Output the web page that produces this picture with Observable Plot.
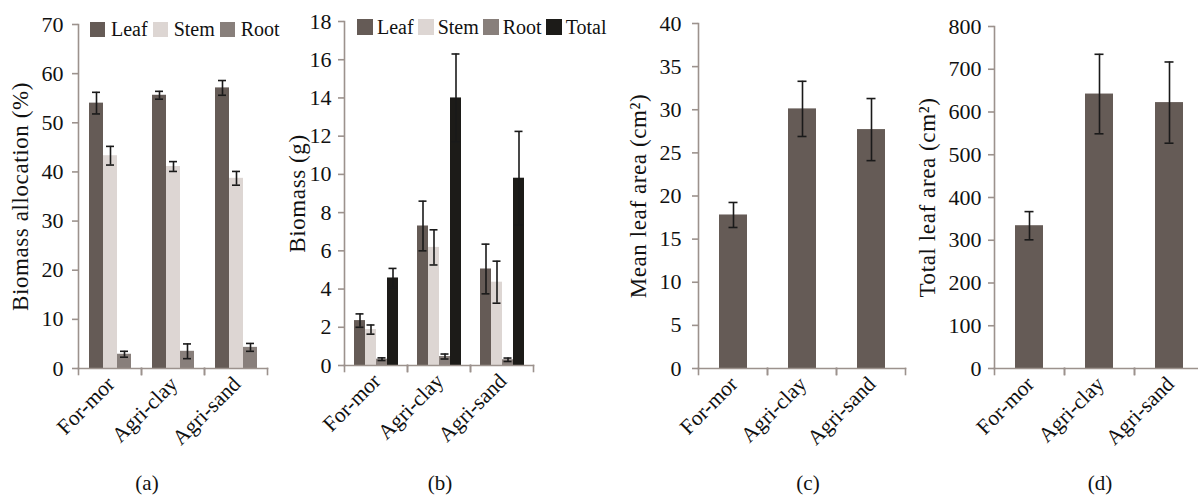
<!DOCTYPE html>
<html><head><meta charset="utf-8">
<script src="https://cdn.jsdelivr.net/npm/d3@7"></script>
<script src="https://cdn.jsdelivr.net/npm/@observablehq/plot@0.6"></script>
<style>
html,body{margin:0;padding:0;background:#fff;overflow:hidden}
#wrap{position:relative;width:1198px;height:496px;overflow:hidden;font-family:"Liberation Serif","Times New Roman",serif;color:#111}
.panel{position:absolute;top:0}
.legend{position:absolute;display:flex;align-items:center;font-size:20px;line-height:16px;white-space:nowrap}
.legend .sw{display:inline-block}
.cap{position:absolute;top:472px;font-size:21px;line-height:22px;transform:translateX(-50%)}
</style></head><body><div id="wrap"></div>
<script>
const categories = ["For-mor", "Agri-clay", "Agri-sand"];

// (a) Biomass allocation (%)
const allocSeries = ["Leaf", "Stem", "Root"];
const allocLeaf = [54.0, 55.6, 57.1];
const allocLeafErr = [2.2, 0.8, 1.5];
const allocStem = [43.3, 41.1, 38.7];
const allocStemErr = [1.9, 1.0, 1.4];
const allocRoot = [2.9, 3.5, 4.3];
const allocRootErr = [0.6, 1.5, 0.8];
const allocTicks = [0, 10, 20, 30, 40, 50, 60, 70];

// (b) Biomass (g)
const massSeries = ["Leaf", "Stem", "Root", "Total"];
const massLeaf = [2.35, 7.3, 5.05];
const massLeafErr = [0.35, 1.3, 1.3];
const massStem = [1.88, 6.18, 4.36];
const massStemErr = [0.24, 0.92, 1.1];
const massRoot = [0.33, 0.47, 0.30];
const massRootErr = [0.07, 0.13, 0.09];
const massTotal = [4.58, 14.0, 9.8];
const massTotalErr = [0.5, 2.3, 2.45];
const massTicks = [0, 2, 4, 6, 8, 10, 12, 14, 16, 18];

// (c) Mean leaf area (cm2)
const meanArea = [17.8, 30.1, 27.7];
const meanAreaErr = [1.45, 3.2, 3.6];
const meanTicks = [0, 5, 10, 15, 20, 25, 30, 35, 40];

// (d) Total leaf area (cm2)
const totalArea = [334, 642, 622];
const totalAreaErr = [33, 93, 95];
const totalTicks = [0, 100, 200, 300, 400, 500, 600, 700, 800];

const palette = {Leaf: "#655b56", Stem: "#ddd6d3", Root: "#887f7b", Total: "#1c1b18", Area: "#655b56"};
const axisColor = "#9c928d";
const errColor = "#1a1a1a";
const FONT = '"Liberation Serif","Times New Roman",serif';

function rowsOf(seriesNames, values, errors) {
  const rows = [];
  categories.forEach((c, i) => {
    seriesNames.forEach((s, j) => {
      rows.push({cat: c, series: s, value: values[j][i], err: errors[j][i]});
    });
  });
  return rows;
}

function panel(o) {
  const H = 440;
  const plotH = H - o.mt - o.mb;
  const width = o.ml + o.plotW + 12;
  const chart = Plot.plot({
    width, height: H,
    marginTop: o.mt, marginBottom: o.mb, marginLeft: o.ml, marginRight: 12,
    style: {fontFamily: FONT, fontSize: "22px", color: "#111", background: "transparent", overflow: "visible"},
    fx: {domain: categories, paddingInner: 0, paddingOuter: 0, label: null},
    x: {domain: o.series, paddingInner: 0, paddingOuter: o.padOuter, axis: null},
    y: {domain: [o.ticks[0], o.ticks[o.ticks.length - 1]]},
    color: {domain: o.series, range: o.series.map(s => palette[s])},
    marks: [
      Plot.barY(o.rows, {fx: "cat", x: "series", y: "value", fill: "series"}),
      Plot.ruleX(o.rows, {fx: "cat", x: "series", y1: d => d.value - d.err, y2: d => d.value + d.err, stroke: errColor, strokeWidth: 1.6}),
      Plot.tickY(o.rows, {fx: "cat", x: "series", y: d => d.value - d.err, stroke: errColor, strokeWidth: 1.6, insetLeft: o.capInset, insetRight: o.capInset}),
      Plot.tickY(o.rows, {fx: "cat", x: "series", y: d => d.value + d.err, stroke: errColor, strokeWidth: 1.6, insetLeft: o.capInset, insetRight: o.capInset}),
      Plot.frame({anchor: "bottom", stroke: axisColor, strokeWidth: 1.6}),
      Plot.frame({anchor: "left", facetAnchor: "left", stroke: axisColor, strokeWidth: 1.6}),
      Plot.frame({anchor: "left", insetTop: plotH, insetBottom: -6, stroke: axisColor, strokeWidth: 1.6}),
      Plot.frame({anchor: "right", insetTop: plotH, insetBottom: -6, stroke: axisColor, strokeWidth: 1.6}),
      Plot.axisY({ticks: o.ticks, tickSize: 6, tickPadding: o.tickPad, stroke: axisColor, strokeWidth: 1.6, fill: "#111",
        tickFormat: d => String(d), fontSize: 22,
        label: o.label, labelAnchor: "center", labelArrow: "none", labelOffset: o.labelOffset}),
      Plot.axisFx({anchor: "bottom", tickSize: 0, tickRotate: -45, tickPadding: 12, fontSize: 21.5, label: null, fill: "#111", dx: 1})
    ]
  });
  chart.classList.add("panel");
  chart.style.left = (o.axisX - o.ml) + "px";
  chart.querySelectorAll("text").forEach(t => {
    if (t.textContent === o.label) { t.setAttribute("font-size", "23"); t.setAttribute("letter-spacing", "0.6"); }
  });
  return chart;
}

const wrap = document.getElementById("wrap");

wrap.appendChild(panel({
  rows: rowsOf(allocSeries, [allocLeaf, allocStem, allocRoot], [allocLeafErr, allocStemErr, allocRootErr]),
  series: allocSeries, ticks: allocTicks, label: "Biomass allocation (%)",
  axisX: 78, ml: 78, plotW: 189, mt: 24, mb: 72, padOuter: 0.75, capInset: 3, tickPad: 9, labelOffset: 67
}));
wrap.appendChild(panel({
  rows: rowsOf(massSeries, [massLeaf, massStem, massRoot, massTotal], [massLeafErr, massStemErr, massRootErr, massTotalErr]),
  series: massSeries, ticks: massTicks, label: "Biomass (g)",
  axisX: 344, ml: 72, plotW: 189, mt: 21, mb: 75, padOuter: 0.74, capInset: 1.5, tickPad: 7, labelOffset: 56
}));
wrap.appendChild(panel({
  rows: rowsOf(["Area"], [meanArea], [meanAreaErr]),
  series: ["Area"], ticks: meanTicks, label: "Mean leaf area (cm²)",
  axisX: 698, ml: 80, plotW: 207, mt: 23, mb: 72, padOuter: 0.69, capInset: 9.5, tickPad: 11, labelOffset: 69
}));
wrap.appendChild(panel({
  rows: rowsOf(["Area"], [totalArea], [totalAreaErr]),
  series: ["Area"], ticks: totalTicks, label: "Total leaf area (cm²)",
  axisX: 994, ml: 80, plotW: 210, mt: 26, mb: 72, padOuter: 0.71, capInset: 9.5, tickPad: 7, labelOffset: 76
}));

function legend(series, left, top, size, gapText, gapItem) {
  const div = document.createElement("div");
  div.className = "legend";
  div.style.left = left + "px";
  div.style.top = top + "px";
  series.forEach((s, i) => {
    const sw = document.createElement("span");
    sw.className = "sw";
    sw.style.width = size + "px";
    sw.style.height = size + "px";
    sw.style.background = palette[s];
    sw.style.marginRight = gapText + "px";
    if (i > 0) sw.style.marginLeft = gapItem + "px";
    const t = document.createElement("span");
    t.textContent = s;
    div.appendChild(sw);
    div.appendChild(t);
  });
  wrap.appendChild(div);
}
legend(allocSeries, 90, 21, 15, 6, 5);
legend(massSeries, 357, 19, 16, 4, 4);

[["(a)", 147], ["(b)", 440], ["(c)", 808], ["(d)", 1100]].forEach(([t, x]) => {
  const c = document.createElement("div");
  c.className = "cap";
  c.style.left = x + "px";
  c.textContent = t;
  wrap.appendChild(c);
});
</script></body></html>
